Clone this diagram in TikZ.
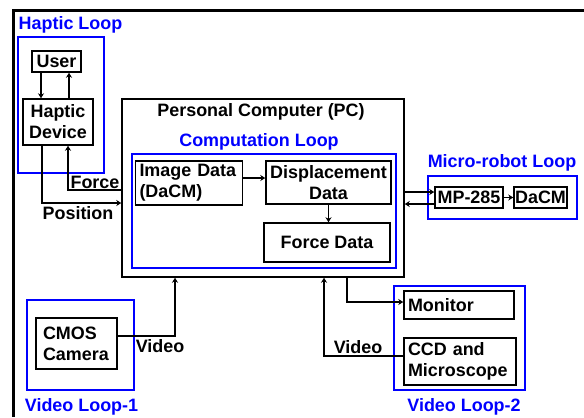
\documentclass[tikz,border=0pt]{standalone}
\usepackage{fontspec}
\setmainfont{Liberation Sans}
\usetikzlibrary{arrows.meta}

\begin{document}
\begin{tikzpicture}[x=1bp, y=-1bp, >={Stealth[length=5bp,width=6bp]},
      font=\fontsize{18}{21}\selectfont\bfseries,
      black box/.style = {draw, line width=1.5bp, inner xsep=3bp, inner ysep=0pt, align=center},
      left box/.style = {draw, line width=1.5bp, inner xsep=4bp, inner ysep=0pt, align=left},
      loop box/.style = {draw=blue, line width=1.5bp, inner sep=0pt},
      loop label/.style = {text=blue, inner sep=0pt},
      line label/.style = {inner sep=0pt},
      link/.style = {->, line width=1.2bp}]
      \useasboundingbox (0,0) rectangle (584,417);
      \draw[line width=3bp] (584,10.5) -- (13.5,10.5) -- (13.5,417);

      \node[loop box, minimum width=86bp, minimum height=136bp] (hloop) at (61,105) {};
      \node[loop box, minimum width=149bp, minimum height=43bp] (mloop) at (502.5,197.5) {};
      \node[loop box, minimum width=107bp, minimum height=90bp] (vloop1) at (80.5,345) {};
      \node[loop box, minimum width=131bp, minimum height=104bp] (vloop2) at (459.5,338) {};

      \node[black box, minimum width=282bp, minimum height=178bp] (pc) at (263,188) {};
      \node[loop box, minimum width=264bp, minimum height=114bp] (cloop) at (264,211) {};

      \node[loop label] (hloop label) at (70.5,25) {Haptic Loop};
      \node[loop label] (cloop label) at (259,142) {Computation Loop};
      \node[loop label] (mloop label) at (502,163) {Micro-robot Loop};
      \node[loop label] (vloop1 label) at (81.5,407) {Video Loop-1};
      \node[loop label] (vloop2 label) at (464,407) {Video Loop-2};
      \node[line label] (pc label) at (261,112) {Personal Computer (PC)};

      \node[black box, minimum width=49bp, minimum height=21bp] (user) at (56.5,61.5) {User};
      \node[black box, minimum width=70bp, minimum height=46bp] (haptic) at (58,122) {Haptic\\Device};
      \node[left box, text width=99bp, minimum height=44bp] (image) at (189,183) {Image Data\\(DaCM)};
      \node[black box, minimum width=125bp, minimum height=43bp] (disp) at (328.5,182.5) {Displacement\\Data};
      \node[black box, minimum width=126bp, minimum height=39bp] (force) at (327,242.5) {Force Data};
      \node[black box, inner xsep=2bp, minimum width=68bp, minimum height=21bp] (mp) at (469,197.5) {MP-285};
      \node[black box, inner xsep=1bp, minimum width=53bp, minimum height=21bp] (dacm) at (540.5,197.5) {DaCM};
      \node[left box, inner xsep=7bp, text width=67bp, minimum height=51bp] (cmos) at (76.5,343.5) {CMOS\\Camera};
      \node[left box, text width=102bp, minimum height=28bp] (monitor) at (459,305) {Monitor};
      \node[left box, text width=104bp, minimum height=47bp] (ccd) at (460,361.5) {CCD and\\Microscope};

      \draw[link] (user.south -| 41,0) -- (haptic.north -| 41,0);
      \draw[link] (haptic.north -| 69,0) -- (user.south -| 69,0);
      \draw[link] (pc.west |- 0,190) -| (haptic.south -| 68,0);
      \draw[link] (haptic.south -| 42,0) |- (pc.west |- 0,203);
      \draw[link] (image.east |- 0,178) -- (disp.west |- 0,178);
      \draw[link] (disp.south) -- (force.north -| disp.south);
      \draw[link] (pc.east |- 0,192) -- (mp.west |- 0,192);
      \draw[link] (mp.west |- 0,204) -- (pc.east |- 0,204);
      \draw[link] (mp) -- (dacm);
      \draw[link] (cmos.east |- 0,336) -| (pc.south -| 175,0);
      \draw[link] (pc.south -| 347,0) |- (monitor.west |- 0,302);
      \draw[link] (ccd.west |- 0,356) -| (pc.south -| 324,0);

      \node[line label] (force label) at (95,182) {Force};
      \node[line label] (position label) at (78,213) {Position};
      \node[line label] (video1 label) at (160,346) {Video};
      \node[line label] (video2 label) at (358,347) {Video};
    \end{tikzpicture}
\end{document}
